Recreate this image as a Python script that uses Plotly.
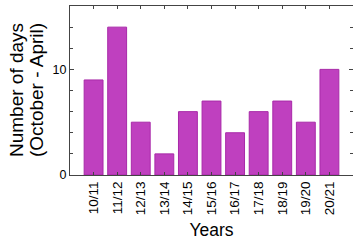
import plotly.graph_objects as go

years = ["10/11", "11/12", "12/13", "13/14", "14/15", "15/16", "16/17", "17/18", "18/19", "19/20", "20/21"]
days = [9, 14, 5, 2, 6, 7, 4, 6, 7, 5, 10]

x_idx = list(range(len(years)))

L, R, T, B, W, H = 70, 0, 6, 65, 353, 240
PW = W - L - R

fig = go.Figure()
fig.add_trace(go.Bar(
    x=x_idx, y=days, width=0.8,
    marker=dict(color="#BF40BF", line=dict(color="#A829A8", width=1)),
))
# invisible trace for right-side tick axis
fig.add_trace(go.Scatter(x=[0], y=[0], yaxis="y2", mode="markers",
                         marker=dict(opacity=0), showlegend=False, hoverinfo="skip"))

fig.update_layout(
    width=W, height=H,
    margin=dict(l=L, r=R, t=T, b=B, autoexpand=False),
    plot_bgcolor="white", paper_bgcolor="white",
    showlegend=False,
    font=dict(family="Liberation Sans, Arial, sans-serif", color="#000"),
    xaxis=dict(
        automargin=False,
        range=[-1, 11], tickmode="array", tickvals=x_idx, ticktext=years,
        tickangle=-90, tickfont=dict(size=13.5), ticks="inside", ticklen=3,
        tickcolor="#444", showline=True, linecolor="#444", linewidth=1,
        mirror="ticks", showgrid=False, zeroline=False,
        title=dict(text="Years", font=dict(size=17.5), standoff=10),
    ),
    yaxis=dict(
        automargin=False,
        range=[0, 16], tickvals=[0, 10], tickfont=dict(size=12.5),
        ticks="inside", ticklen=4, tickcolor="#444",
        minor=dict(tickvals=[2, 4, 6, 8, 12, 14], ticks="inside", ticklen=3, tickcolor="#444"),
        showline=True, linecolor="#444", linewidth=1, mirror=False,
        showgrid=False, zeroline=False,
    ),
    yaxis2=dict(
        automargin=False,
        overlaying="y", side="right", range=[0, 16], matches="y",
        tickvals=[0, 10], showticklabels=False, ticks="inside", ticklen=4,
        tickcolor="#444",
        minor=dict(tickvals=[2, 4, 6, 8, 12, 14], ticks="inside", ticklen=3, tickcolor="#444"),
        showline=False, showgrid=False, zeroline=False,
    ),
    annotations=[
        dict(text="Number of days", textangle=-90, xref="paper", yref="paper",
             x=(16.5 - L) / PW, y=0.5, xanchor="center", yanchor="middle",
             showarrow=False, font=dict(size=19)),
        dict(text="(October - April)", textangle=-90, xref="paper", yref="paper",
             x=(36.5 - L) / PW, y=0.5, xanchor="center", yanchor="middle",
             showarrow=False, font=dict(size=19)),
    ],
)

fig.write_html(
    "out.html",
    config={"displayModeBar": False},
    post_script="document.body.style.margin='0';document.body.style.overflow='hidden';",
)
